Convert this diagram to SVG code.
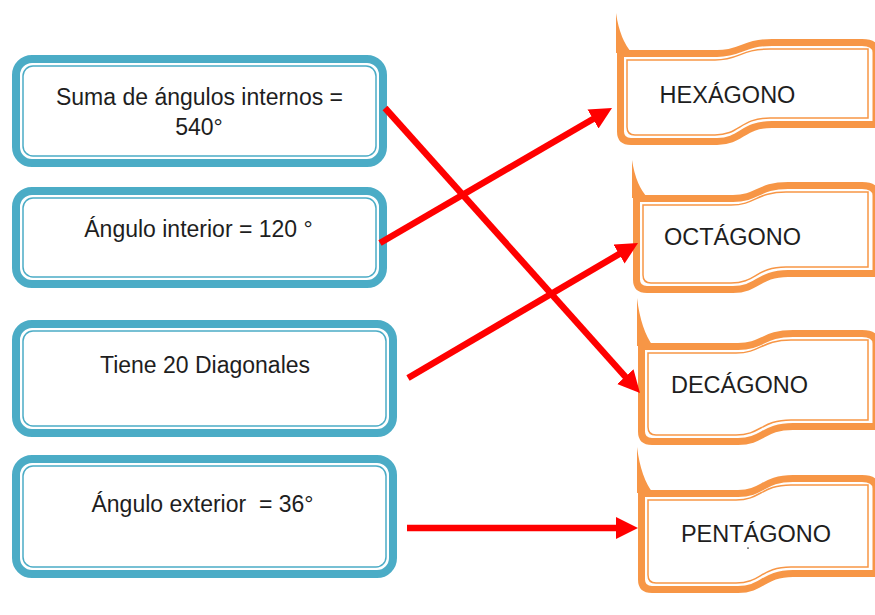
<svg xmlns="http://www.w3.org/2000/svg" width="875" height="615" viewBox="0 0 875 615">
<defs>
<style>
.box-o{fill:#fff;stroke:#4BACC6;stroke-width:8}
.box-i{fill:none;stroke:#4BACC6;stroke-width:1.5}
.ban-o{fill:#fff;stroke:#F79646;stroke-width:7;stroke-linejoin:round}
.ban-i{fill:none;stroke:#F79646;stroke-width:1.5}
.spike{fill:#F79646}
.t{font-family:"Liberation Sans",Arial,sans-serif;font-size:23px;fill:#1e1e1e;text-anchor:middle}
.tb{font-family:"Liberation Sans",Arial,sans-serif;font-size:23.5px;fill:#1e1e1e;text-anchor:middle}
.arr{stroke:#FF0000;stroke-width:6.5;fill:none;marker-end:url(#ah)}
</style>
<marker id="ah" markerUnits="userSpaceOnUse" markerWidth="24" markerHeight="24" refX="6" refY="11" orient="auto">
<path d="M0,0 L22,11 L0,22 Z" fill="#FF0000"/>
</marker>
</defs>
<rect width="875" height="615" fill="#fff"/>

<g id="box1">
<rect class="box-o" x="16" y="59" width="367" height="104" rx="16"/>
<rect class="box-i" x="23" y="66" width="353" height="90" rx="10"/>
<text class="t" x="199.5" y="105">Suma de ángulos internos =</text>
<text class="t" x="199" y="135">540°</text>
</g>
<g id="box2">
<rect class="box-o" x="16" y="191" width="367" height="93" rx="16"/>
<rect class="box-i" x="23" y="198" width="353" height="79" rx="10"/>
<text class="t" x="198.5" y="237">Ángulo interior = 120 °</text>
</g>
<g id="box3">
<rect class="box-o" x="16" y="324" width="377" height="109" rx="16"/>
<rect class="box-i" x="23" y="331" width="363" height="95" rx="10"/>
<text class="t" x="205" y="373">Tiene 20 Diagonales</text>
</g>
<g id="box4">
<rect class="box-o" x="16" y="459" width="377" height="115" rx="16"/>
<rect class="box-i" x="23" y="466" width="363" height="101" rx="10"/>
<text class="t" x="202.5" y="512" xml:space="preserve">Ángulo exterior  = 36°</text>
</g>

<g id="hexagono">
<path class="ban-o" d="M620.5,53.5 L717,53.5 C742,53.5 742,42.5 772,42.5 L862,42.5 Q876,42.5 876,52.5 L876,124.5 L772,124.5 C742,124.5 742,141.5 717,141.5 L631,141.5 Q620.5,141.5 620.5,131.5 Z"/>
<path class="ban-i" d="M627,60 L715,60 C740,60 740,49 770,49 L868,49 L868,118 L770,118 C740,118 740,135 715,135 L635,135 Q627,135 627,127 Z"/>
<path class="spike" d="M616,13 Q620,40 632,53 L616,53 Z"/>
<text class="tb" x="727.5" y="103">HEXÁGONO</text>
</g>
<g id="octagono">
<path class="ban-o" d="M636.5,198.5 L733,198.5 C758,198.5 758,185.5 788,185.5 L862,185.5 Q876,185.5 876,195.5 L876,273.5 L788,273.5 C758,273.5 758,289.5 733,289.5 L647,289.5 Q636.5,289.5 636.5,279.5 Z"/>
<path class="ban-i" d="M643,205 L731,205 C756,205 756,192 786,192 L868,192 L868,267 L786,267 C756,267 756,283 731,283 L651,283 Q643,283 643,275 Z"/>
<path class="spike" d="M632,160 Q636,186 648,198 L632,198 Z"/>
<text class="tb" x="732.5" y="245">OCTÁGONO</text>
</g>
<g id="decagono">
<path class="ban-o" d="M641.5,346.5 L738,346.5 C763,346.5 763,333.5 793,333.5 L862,333.5 Q876,333.5 876,343.5 L876,426.5 L793,426.5 C763,426.5 763,441.5 738,441.5 L652,441.5 Q641.5,441.5 641.5,431.5 Z"/>
<path class="ban-i" d="M648,353 L736,353 C761,353 761,340 791,340 L868,340 L868,420 L791,420 C761,420 761,435 736,435 L656,435 Q648,435 648,427 Z"/>
<path class="spike" d="M637,298 Q641,330 653,346 L637,346 Z"/>
<text class="tb" x="739.5" y="393">DECÁGONO</text>
</g>
<g id="pentagono">
<path class="ban-o" d="M641.5,493.5 L738,493.5 C763,493.5 763,478.5 793,478.5 L862,478.5 Q876,478.5 876,488.5 L876,573.5 L793,573.5 C763,573.5 763,589.5 738,589.5 L652,589.5 Q641.5,589.5 641.5,579.5 Z"/>
<path class="ban-i" d="M648,500 L736,500 C761,500 761,485 791,485 L868,485 L868,567 L791,567 C761,567 761,583 736,583 L656,583 Q648,583 648,575 Z"/>
<path class="spike" d="M637,447 Q641,478 653,493 L637,493 Z"/>
<text class="tb" x="756" y="542">PENTÁGONO</text>
<rect x="747" y="547.5" width="2" height="1.2" fill="#555"/>
</g>

<g id="connectors">
<line class="arr" x1="385" y1="108" x2="629.3" y2="381.1"/>
<line class="arr" x1="380" y1="243" x2="598.2" y2="116"/>
<line class="arr" x1="408" y1="378" x2="624.2" y2="251.1"/>
<line class="arr" x1="407" y1="528" x2="622" y2="528"/>
</g>
</svg>
